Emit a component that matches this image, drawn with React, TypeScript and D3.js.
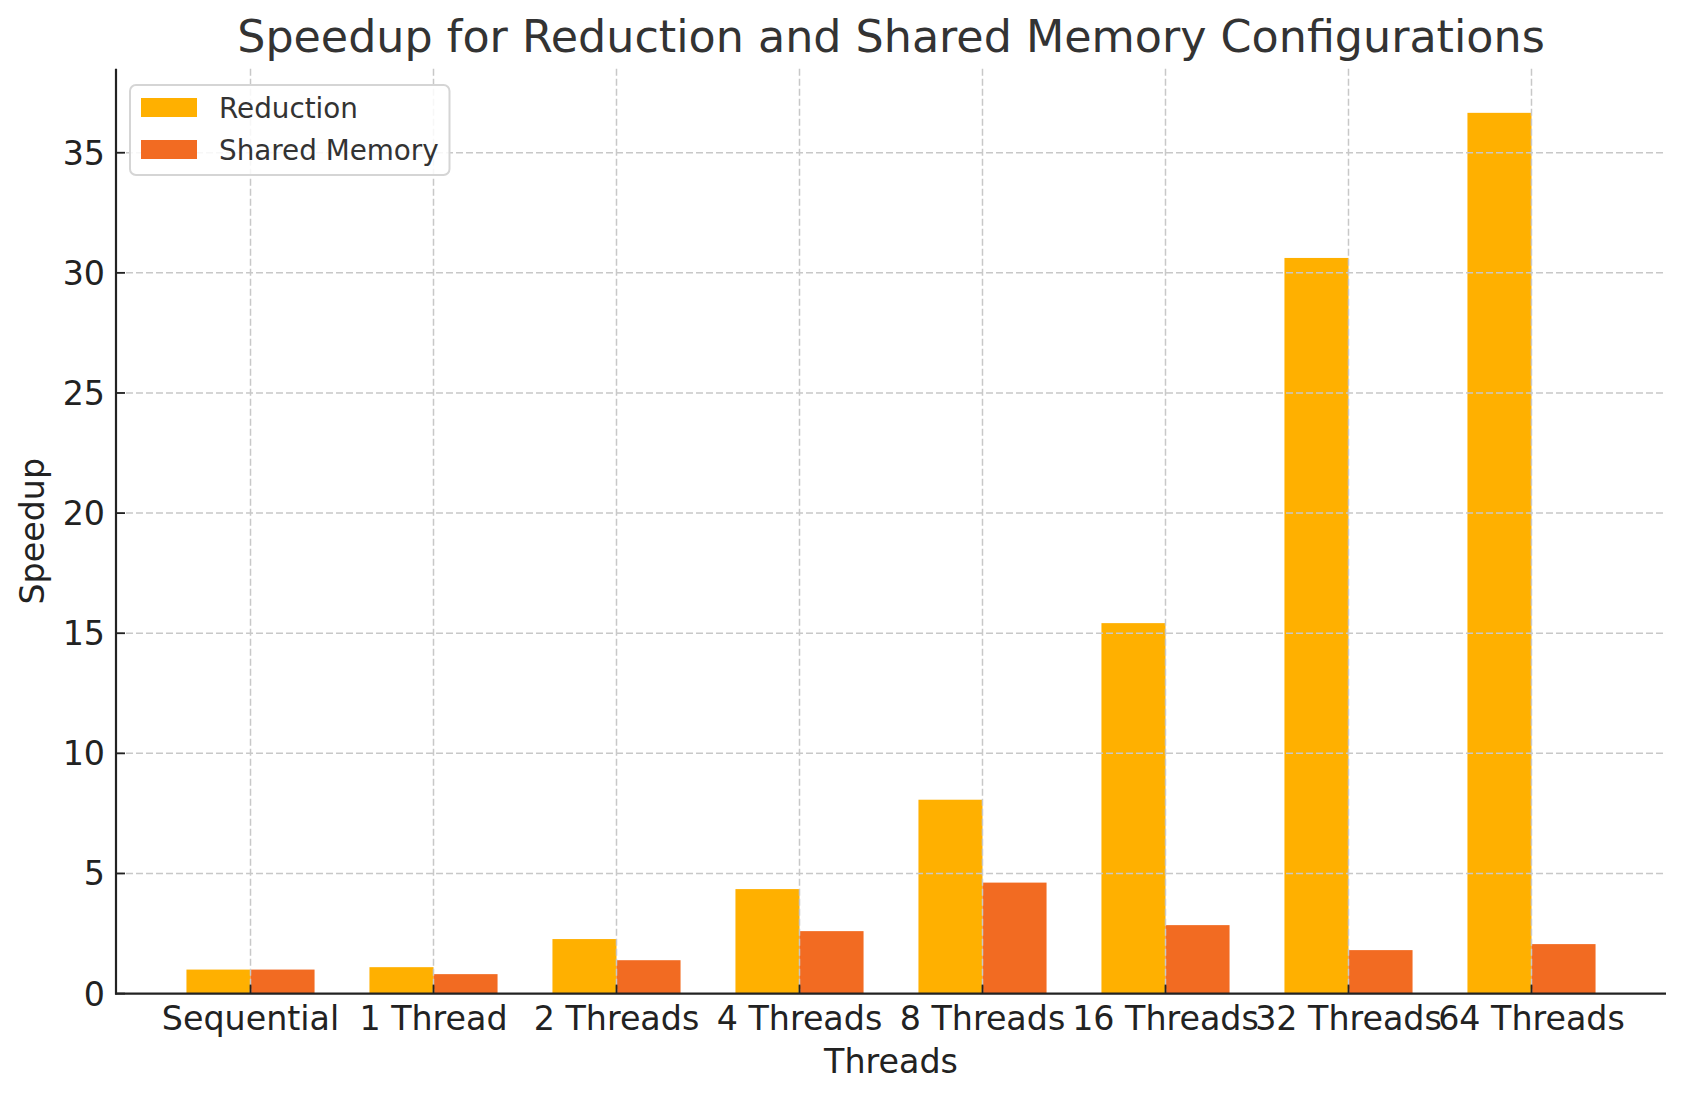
import React from 'react';
import * as d3 from 'd3';

const categories = ['Sequential', '1 Thread', '2 Threads', '4 Threads', '8 Threads', '16 Threads', '32 Threads', '64 Threads'];
const reduction = [1.0, 1.1, 2.27, 4.35, 8.07, 15.42, 30.62, 36.66];
const sharedMemory = [1.0, 0.81, 1.39, 2.6, 4.62, 2.85, 1.81, 2.06];
const yTicks = [0, 5, 10, 15, 20, 25, 30, 35];

const W = 1686;
const H = 1101;
const margin = { top: 68.8, right: 20, bottom: 107.4, left: 116 };
const barW = 0.35;
const font = 'DejaVu Sans, sans-serif';

const App = () => {
  const x = d3.scaleLinear()
    .domain([-0.735, categories.length - 1 + 0.735])
    .range([margin.left, W - margin.right]);
  const yMax = Math.max(...reduction, ...sharedMemory) * 1.05;
  const y = d3.scaleLinear()
    .domain([0, yMax])
    .range([H - margin.bottom, margin.top]);

  const x0 = x.range()[0];
  const x1 = x.range()[1];
  const y0 = y(0);
  const yTop = y(yMax);

  const series = [
    { name: 'Reduction', values: reduction, color: '#FFB000', offset: -barW / 2 },
    { name: 'Shared Memory', values: sharedMemory, color: '#F26B22', offset: barW / 2 },
  ];

  return (
    <svg width={W} height={H} style={{ position: 'absolute', left: 0, top: 0, background: '#fff' }} fontFamily={font}>
      {/* bars */}
      {series.map(s => (
        <g key={s.name}>
          {s.values.map((v, i) => (
            <rect
              key={i}
              x={x(i + s.offset - barW / 2)}
              y={y(v)}
              width={x(barW) - x(0)}
              height={y0 - y(v)}
              fill={s.color}
            />
          ))}
        </g>
      ))}

      {/* grid */}
      <g stroke="#c8c8c8" strokeWidth={1.5} strokeDasharray="7,3">
        {yTicks.filter(t => t > 0).map(t => (
          <line key={'gy' + t} x1={x0} x2={x1} y1={y(t)} y2={y(t)} />
        ))}
        {categories.map((c, i) => (
          <line key={'gx' + c} x1={x(i)} x2={x(i)} y1={yTop} y2={y0} />
        ))}
      </g>

      {/* ticks */}
      <g stroke="#222" strokeWidth={1.8}>
        {yTicks.map(t => (
          <line key={'ty' + t} x1={x0} x2={x0 + 9} y1={y(t)} y2={y(t)} />
        ))}
        {categories.map((c, i) => (
          <line key={'tx' + c} x1={x(i)} x2={x(i)} y1={y0} y2={y0 - 9} />
        ))}
      </g>

      {/* spines */}
      <line x1={x0} x2={x0} y1={yTop} y2={y0 + 1} stroke="#222" strokeWidth={2.2} />
      <line x1={x0 - 1} x2={x1} y1={y0} y2={y0} stroke="#222" strokeWidth={2.2} />

      {/* tick labels */}
      {yTicks.map(t => (
        <text key={'ly' + t} x={x0 - 11} y={y(t)} dy="0.36em" textAnchor="end" fontSize={33.3} fill="#222">
          {t}
        </text>
      ))}
      {categories.map((c, i) => (
        <text key={'lx' + c} x={x(i)} y={1030} textAnchor="middle" fontSize={33.3} fill="#222">
          {c}
        </text>
      ))}

      {/* axis labels */}
      <text x={(x0 + x1) / 2} y={1073} textAnchor="middle" fontSize={33.3} fill="#222">Threads</text>
      <text transform={`translate(44,${(yTop + y0) / 2}) rotate(-90)`} textAnchor="middle" fontSize={33.3} fill="#222">Speedup</text>

      {/* title */}
      <text x={(x0 + x1) / 2} y={52} textAnchor="middle" fontSize={44.4} fill="#333">
        Speedup for Reduction and Shared Memory Configurations
      </text>

      {/* legend */}
      <g>
        <rect x={130} y={85} width={319.5} height={90} rx={6} fill="#fff" fillOpacity={0.85} stroke="#d5d5d5" strokeWidth={2} />
        {series.map((s, i) => (
          <g key={'lg' + s.name}>
            <rect x={141} y={98 + i * 42} width={56} height={19} fill={s.color} />
            <text x={219} y={107.5 + i * 42} dy="0.36em" fontSize={27.8} fill="#333">{s.name}</text>
          </g>
        ))}
      </g>
    </svg>
  );
};

export default App;
